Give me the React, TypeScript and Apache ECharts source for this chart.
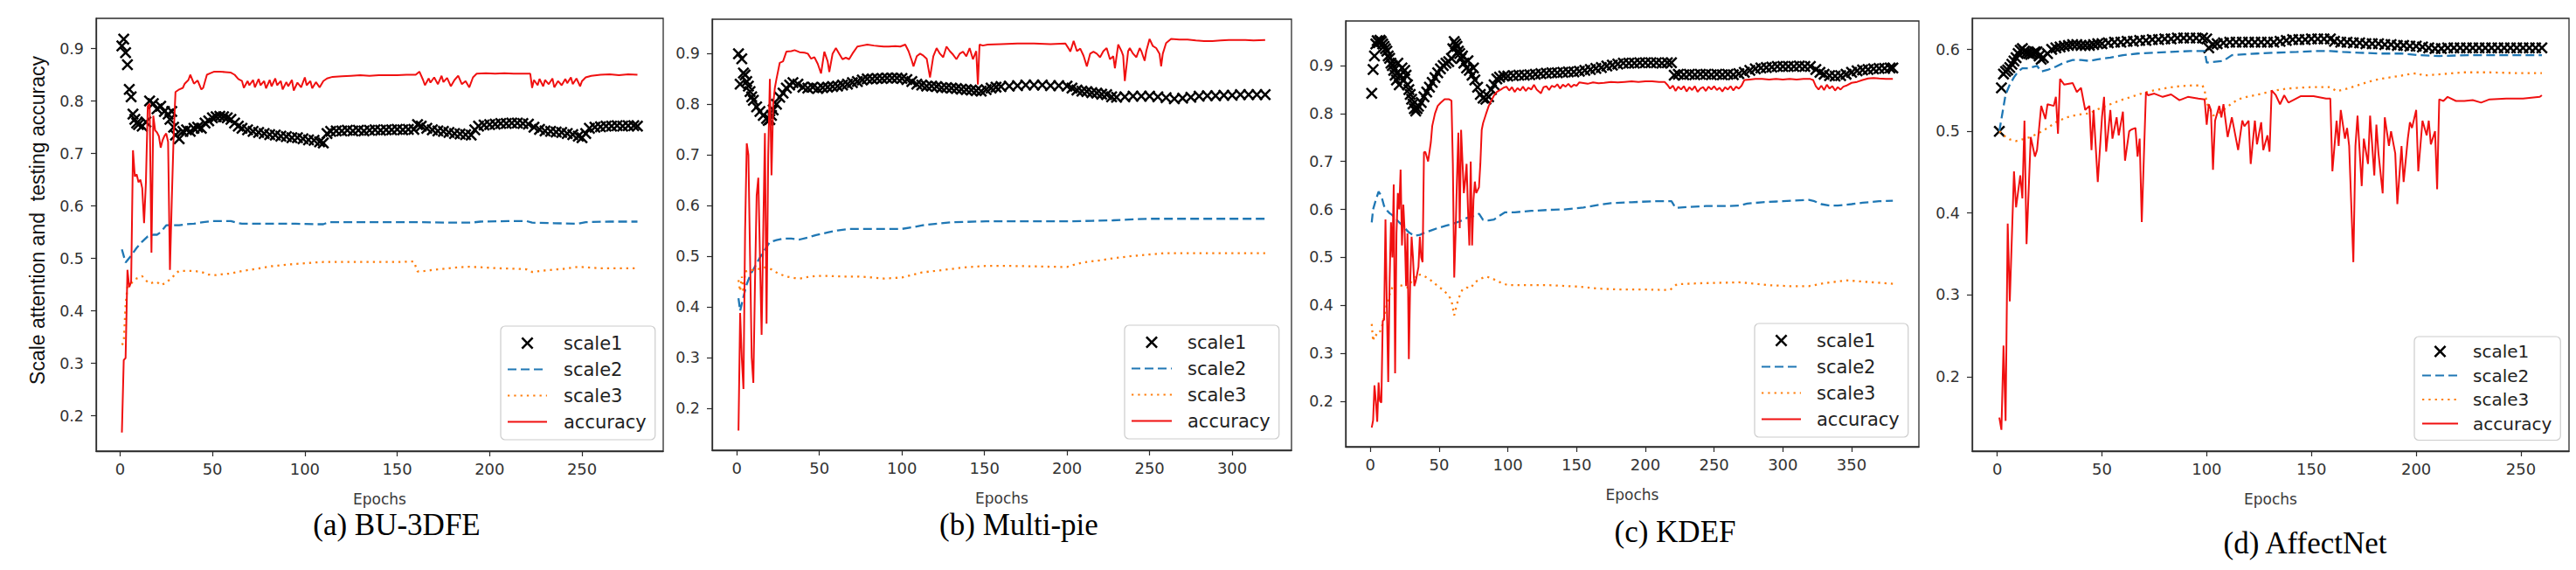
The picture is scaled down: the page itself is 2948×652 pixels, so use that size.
import React, { useEffect, useRef } from "react";
import * as echarts from "echarts";

type P = [number, number];

// ---------- (a) BU-3DFE ----------
const A_SCALE1: P[] = [[1,0.905],[2,0.918],[3,0.892],[4,0.869],[5,0.822],[6,0.808],[7,0.775],[8,0.765],[9,0.758],[10,0.755],[12,0.752],[14,0.76],[16,0.8],[18,0.795],[20,0.785],[22,0.79],[24,0.78],[26,0.775],[27,0.765],[28,0.78],[29,0.75],[30,0.735],[32,0.728],[34,0.742],[36,0.745],[38,0.742],[40,0.748],[42,0.75],[44,0.748],[46,0.758],[48,0.762],[50,0.768],[52,0.77],[54,0.771],[56,0.77],[58,0.768],[60,0.765],[62,0.758],[64,0.752],[66,0.748],[69,0.745],[72,0.742],[75,0.74],[78,0.738],[81,0.736],[84,0.735],[87,0.733],[90,0.732],[93,0.73],[96,0.73],[99,0.728],[102,0.726],[105,0.725],[108,0.722],[110,0.72],[112,0.738],[114,0.742],[117,0.743],[120,0.743],[123,0.744],[126,0.743],[129,0.744],[132,0.743],[135,0.744],[138,0.745],[141,0.744],[144,0.745],[147,0.745],[150,0.746],[153,0.745],[156,0.746],[159,0.746],[161,0.755],[163,0.752],[166,0.748],[169,0.745],[172,0.743],[175,0.742],[178,0.74],[181,0.738],[184,0.737],[187,0.736],[190,0.735],[192,0.745],[194,0.752],[197,0.754],[200,0.755],[203,0.756],[206,0.757],[209,0.757],[212,0.758],[215,0.758],[218,0.757],[221,0.756],[224,0.75],[227,0.746],[230,0.743],[233,0.742],[236,0.741],[239,0.74],[242,0.738],[245,0.736],[248,0.733],[250,0.73],[252,0.738],[254,0.748],[257,0.75],[260,0.751],[263,0.752],[266,0.752],[269,0.753],[272,0.752],[275,0.753],[278,0.753],[280,0.752]];
const A_SCALE2: P[] = [[1,0.517],[3,0.492],[6,0.505],[9,0.52],[12,0.532],[15,0.542],[18,0.545],[20,0.545],[22,0.55],[25,0.563],[28,0.563],[32,0.563],[36,0.565],[40,0.566],[45,0.569],[50,0.571],[55,0.571],[60,0.571],[63,0.568],[66,0.566],[75,0.566],[85,0.566],[95,0.566],[105,0.565],[110,0.565],[113,0.569],[120,0.569],[140,0.569],[160,0.569],[180,0.568],[190,0.568],[195,0.57],[210,0.571],[220,0.571],[223,0.568],[235,0.567],[248,0.566],[252,0.569],[265,0.57],[280,0.57]];
const A_SCALE3: P[] = [[1,0.335],[2,0.34],[3,0.412],[4,0.445],[6,0.452],[8,0.46],[10,0.463],[12,0.466],[14,0.458],[16,0.452],[18,0.454],[20,0.455],[22,0.449],[24,0.452],[26,0.457],[28,0.462],[30,0.471],[32,0.476],[36,0.476],[40,0.476],[44,0.474],[48,0.469],[52,0.468],[56,0.47],[60,0.471],[66,0.476],[74,0.48],[82,0.485],[90,0.488],[98,0.49],[105,0.492],[110,0.493],[120,0.493],[130,0.493],[140,0.493],[150,0.493],[159,0.494],[161,0.475],[165,0.476],[172,0.479],[180,0.482],[188,0.484],[195,0.483],[205,0.481],[215,0.48],[220,0.479],[223,0.474],[230,0.477],[240,0.48],[248,0.484],[252,0.483],[260,0.481],[270,0.481],[280,0.481]];
const A_ACC: P[] = [[1,0.168],[2,0.306],[3,0.31],[4,0.478],[5,0.445],[6,0.455],[7,0.706],[8,0.656],[9,0.66],[10,0.645],[11,0.65],[12,0.634],[13,0.567],[14,0.645],[15,0.79],[16,0.795],[17,0.511],[18,0.772],[19,0.744],[20,0.74],[21,0.733],[22,0.711],[23,0.725],[24,0.733],[25,0.738],[26,0.722],[27,0.478],[28,0.611],[29,0.733],[30,0.817],[32,0.822],[34,0.825],[35,0.833],[37,0.84],[38,0.85],[40,0.833],[42,0.839],[44,0.822],[45,0.825],[47,0.85],[49,0.853],[51,0.856],[54,0.856],[57,0.855],[60,0.854],[62,0.85],[64,0.842],[66,0.838],[67,0.825],[69,0.838],[70,0.83],[72,0.84],[73,0.826],[75,0.842],[76,0.83],[78,0.838],[79,0.824],[81,0.84],[82,0.828],[84,0.843],[85,0.83],[87,0.838],[88,0.822],[90,0.836],[91,0.828],[93,0.84],[94,0.82],[96,0.835],[98,0.826],[100,0.845],[101,0.83],[103,0.838],[104,0.824],[106,0.836],[108,0.826],[110,0.838],[112,0.843],[115,0.846],[120,0.847],[125,0.848],[130,0.849],[135,0.848],[140,0.849],[145,0.849],[150,0.849],[155,0.85],[160,0.85],[162,0.856],[164,0.84],[165,0.83],[167,0.843],[168,0.835],[170,0.845],[172,0.832],[174,0.848],[175,0.836],[177,0.844],[179,0.828],[181,0.84],[183,0.848],[185,0.832],[187,0.838],[189,0.826],[191,0.845],[193,0.852],[198,0.853],[203,0.852],[208,0.853],[213,0.852],[218,0.852],[222,0.852],[223,0.825],[224,0.84],[226,0.83],[227,0.842],[229,0.828],[230,0.84],[232,0.832],[234,0.843],[235,0.826],[237,0.838],[239,0.83],[241,0.842],[242,0.834],[244,0.845],[245,0.832],[247,0.843],[249,0.828],[250,0.838],[252,0.845],[255,0.848],[260,0.85],[265,0.851],[270,0.849],[275,0.851],[280,0.85]];

// ---------- (b) Multi-pie ----------
const B_SCALE1: P[] = [[1,0.9],[2,0.84],[3,0.89],[4,0.862],[5,0.858],[6,0.845],[7,0.836],[8,0.825],[9,0.815],[10,0.808],[12,0.795],[14,0.786],[16,0.778],[18,0.772],[19,0.768],[20,0.77],[21,0.778],[22,0.789],[24,0.8],[26,0.814],[28,0.822],[30,0.832],[32,0.838],[34,0.843],[37,0.84],[40,0.834],[43,0.832],[46,0.834],[49,0.831],[52,0.833],[55,0.834],[58,0.835],[61,0.836],[64,0.838],[67,0.84],[70,0.843],[73,0.845],[76,0.848],[79,0.85],[82,0.85],[85,0.851],[88,0.851],[91,0.852],[94,0.852],[97,0.852],[100,0.851],[103,0.849],[106,0.845],[109,0.84],[112,0.838],[115,0.836],[118,0.836],[121,0.835],[124,0.833],[127,0.833],[130,0.832],[133,0.831],[136,0.83],[139,0.829],[142,0.828],[145,0.827],[148,0.826],[151,0.829],[154,0.832],[157,0.834],[160,0.835],[165,0.836],[170,0.837],[175,0.838],[180,0.838],[185,0.838],[190,0.837],[195,0.837],[200,0.836],[203,0.832],[206,0.828],[209,0.826],[212,0.825],[215,0.823],[218,0.822],[221,0.82],[224,0.819],[227,0.815],[230,0.814],[235,0.815],[240,0.816],[245,0.816],[250,0.816],[255,0.815],[260,0.813],[265,0.811],[270,0.812],[275,0.814],[280,0.816],[285,0.817],[290,0.817],[295,0.818],[300,0.818],[305,0.819],[310,0.819],[315,0.819],[320,0.819]];
const B_SCALE2: P[] = [[1,0.417],[2,0.392],[4,0.42],[6,0.445],[8,0.462],[10,0.474],[12,0.486],[15,0.503],[18,0.518],[20,0.528],[24,0.532],[28,0.535],[33,0.535],[38,0.533],[43,0.537],[48,0.542],[55,0.547],[61,0.551],[68,0.554],[80,0.554],[90,0.554],[100,0.554],[106,0.557],[112,0.561],[120,0.564],[130,0.567],[140,0.568],[151,0.569],[170,0.569],[190,0.569],[202,0.569],[215,0.57],[228,0.571],[240,0.573],[249,0.574],[270,0.574],[290,0.574],[320,0.574]];
const B_SCALE3: P[] = [[1,0.453],[2,0.431],[3,0.46],[4,0.428],[5,0.47],[8,0.472],[12,0.474],[17,0.478],[21,0.474],[25,0.466],[30,0.46],[35,0.457],[38,0.456],[43,0.459],[48,0.461],[55,0.461],[65,0.46],[74,0.46],[82,0.458],[89,0.456],[95,0.457],[100,0.458],[106,0.463],[112,0.468],[120,0.471],[130,0.475],[138,0.478],[151,0.481],[165,0.481],[180,0.48],[195,0.479],[200,0.479],[205,0.484],[210,0.488],[220,0.492],[228,0.496],[238,0.5],[248,0.503],[259,0.506],[280,0.506],[300,0.506],[320,0.506]];
const B_ACC: P[] = [[1,0.156],[2,0.388],[3,0.3],[4,0.238],[5,0.55],[6,0.723],[7,0.7],[8,0.5],[9,0.3],[10,0.25],[11,0.45],[12,0.62],[13,0.655],[14,0.5],[15,0.345],[16,0.55],[17,0.743],[18,0.367],[19,0.7],[20,0.85],[21,0.66],[22,0.8],[23,0.832],[24,0.85],[26,0.882],[28,0.885],[30,0.904],[33,0.905],[35,0.907],[38,0.903],[41,0.902],[43,0.9],[45,0.89],[47,0.893],[49,0.88],[51,0.861],[53,0.904],[55,0.885],[56,0.864],[58,0.9],[60,0.911],[62,0.9],[64,0.889],[66,0.892],[68,0.889],[70,0.9],[73,0.914],[76,0.916],[79,0.918],[83,0.916],[86,0.915],[89,0.914],[92,0.914],[96,0.915],[99,0.914],[102,0.918],[104,0.905],[106,0.886],[107,0.875],[109,0.895],[111,0.9],[113,0.896],[115,0.89],[117,0.853],[119,0.895],[121,0.911],[123,0.9],[125,0.893],[127,0.914],[129,0.905],[131,0.898],[133,0.889],[135,0.9],[137,0.904],[139,0.895],[141,0.911],[143,0.889],[145,0.905],[146,0.839],[147,0.918],[149,0.916],[152,0.918],[160,0.919],[170,0.92],[180,0.92],[190,0.919],[199,0.92],[201,0.91],[202,0.904],[204,0.925],[206,0.905],[208,0.91],[210,0.896],[212,0.875],[214,0.9],[216,0.904],[218,0.9],[220,0.893],[222,0.905],[224,0.911],[226,0.889],[228,0.895],[229,0.871],[231,0.918],[233,0.905],[234,0.896],[235,0.846],[237,0.905],[238,0.911],[240,0.9],[242,0.893],[244,0.911],[245,0.905],[247,0.886],[248,0.905],[250,0.929],[252,0.915],[254,0.911],[256,0.9],[257,0.875],[258,0.9],[260,0.921],[263,0.929],[268,0.928],[273,0.928],[278,0.926],[283,0.925],[288,0.925],[293,0.926],[298,0.927],[303,0.927],[308,0.927],[313,0.926],[320,0.927]];

// ---------- (c) KDEF ----------
const C_SCALE1: P[] = [[1,0.842],[2,0.892],[3,0.92],[4,0.945],[5,0.952],[6,0.948],[7,0.953],[8,0.95],[9,0.945],[10,0.94],[11,0.935],[12,0.93],[13,0.92],[14,0.915],[15,0.905],[16,0.9],[17,0.89],[18,0.88],[19,0.87],[20,0.905],[21,0.86],[22,0.88],[23,0.895],[24,0.87],[25,0.89],[26,0.88],[27,0.86],[28,0.85],[29,0.84],[30,0.83],[31,0.82],[32,0.81],[33,0.805],[34,0.81],[35,0.815],[37,0.823],[39,0.835],[41,0.845],[43,0.855],[45,0.865],[47,0.875],[49,0.885],[51,0.893],[53,0.9],[55,0.905],[57,0.908],[59,0.915],[60,0.935],[61,0.95],[62,0.945],[63,0.94],[64,0.93],[65,0.925],[66,0.915],[67,0.92],[68,0.905],[70,0.895],[71,0.91],[72,0.89],[74,0.88],[75,0.895],[76,0.87],[78,0.855],[80,0.84],[82,0.832],[84,0.83],[86,0.835],[88,0.85],[90,0.86],[92,0.872],[94,0.876],[97,0.878],[100,0.878],[104,0.879],[108,0.88],[112,0.88],[116,0.881],[120,0.882],[124,0.883],[128,0.884],[132,0.885],[136,0.885],[140,0.886],[144,0.887],[148,0.887],[152,0.888],[156,0.89],[160,0.892],[164,0.894],[168,0.896],[172,0.899],[176,0.901],[180,0.903],[184,0.905],[188,0.905],[192,0.905],[196,0.906],[200,0.906],[204,0.906],[208,0.906],[212,0.905],[216,0.906],[219,0.906],[221,0.88],[224,0.882],[228,0.881],[232,0.882],[236,0.881],[240,0.882],[244,0.882],[248,0.881],[252,0.882],[256,0.881],[260,0.882],[264,0.881],[268,0.883],[272,0.886],[276,0.89],[280,0.893],[284,0.895],[288,0.896],[292,0.897],[296,0.898],[300,0.898],[304,0.898],[308,0.898],[312,0.899],[316,0.898],[320,0.898],[324,0.892],[327,0.886],[330,0.882],[334,0.879],[338,0.878],[342,0.879],[346,0.882],[350,0.886],[354,0.889],[358,0.891],[362,0.892],[366,0.893],[370,0.894],[374,0.894],[378,0.895],[380,0.895]];
const C_SCALE2: P[] = [[1,0.573],[2,0.6],[4,0.62],[6,0.637],[8,0.628],[10,0.607],[12,0.598],[14,0.592],[16,0.588],[20,0.576],[24,0.564],[28,0.552],[32,0.545],[36,0.547],[40,0.552],[45,0.557],[50,0.562],[55,0.566],[60,0.57],[65,0.575],[70,0.582],[75,0.586],[79,0.591],[82,0.578],[86,0.577],[90,0.579],[94,0.587],[98,0.594],[105,0.594],[117,0.597],[130,0.599],[141,0.6],[155,0.604],[165,0.609],[175,0.613],[190,0.615],[205,0.617],[219,0.617],[222,0.603],[230,0.605],[244,0.607],[260,0.607],[268,0.608],[274,0.612],[285,0.615],[300,0.617],[319,0.62],[323,0.617],[328,0.611],[334,0.608],[340,0.608],[350,0.611],[358,0.614],[370,0.617],[380,0.618]];
const C_SCALE3: P[] = [[1,0.361],[2,0.325],[3,0.34],[5,0.337],[7,0.345],[9,0.361],[11,0.39],[13,0.415],[15,0.43],[17,0.445],[20,0.443],[24,0.44],[27,0.437],[30,0.45],[33,0.463],[37,0.464],[41,0.458],[45,0.45],[49,0.44],[53,0.432],[57,0.42],[59,0.41],[61,0.379],[63,0.403],[65,0.42],[67,0.433],[70,0.437],[73,0.436],[76,0.448],[80,0.455],[84,0.46],[88,0.457],[92,0.451],[96,0.446],[100,0.442],[115,0.442],[130,0.442],[151,0.439],[165,0.435],[180,0.433],[200,0.433],[214,0.432],[218,0.432],[223,0.444],[240,0.446],[255,0.447],[268,0.448],[280,0.445],[289,0.442],[305,0.44],[319,0.44],[330,0.446],[346,0.452],[360,0.449],[380,0.445]];
const C_ACC: P[] = [[1,0.145],[2,0.16],[3,0.233],[4,0.2],[5,0.157],[6,0.239],[7,0.2],[8,0.197],[9,0.367],[10,0.37],[11,0.579],[12,0.4],[13,0.24],[14,0.45],[15,0.573],[16,0.5],[17,0.652],[18,0.258],[19,0.55],[20,0.634],[21,0.6],[22,0.683],[23,0.525],[24,0.61],[25,0.55],[26,0.44],[27,0.55],[28,0.288],[29,0.45],[30,0.543],[31,0.5],[32,0.44],[33,0.45],[34,0.465],[35,0.48],[36,0.543],[37,0.5],[38,0.49],[39,0.719],[40,0.72],[42,0.7],[44,0.74],[45,0.774],[47,0.8],[49,0.816],[51,0.822],[54,0.83],[57,0.83],[59,0.827],[60,0.695],[61,0.458],[62,0.55],[63,0.664],[64,0.76],[65,0.561],[66,0.766],[67,0.7],[68,0.634],[69,0.66],[70,0.695],[71,0.6],[72,0.525],[73,0.7],[74,0.525],[75,0.62],[76,0.658],[77,0.634],[78,0.64],[79,0.646],[80,0.695],[81,0.766],[82,0.78],[84,0.798],[86,0.815],[88,0.827],[90,0.838],[92,0.845],[95,0.85],[97,0.854],[99,0.856],[101,0.848],[103,0.855],[105,0.845],[107,0.853],[109,0.848],[111,0.856],[113,0.847],[115,0.854],[117,0.85],[119,0.86],[121,0.85],[123,0.845],[124,0.842],[126,0.855],[128,0.857],[130,0.849],[132,0.858],[134,0.855],[136,0.861],[138,0.852],[140,0.86],[142,0.856],[144,0.862],[146,0.855],[148,0.86],[150,0.858],[152,0.865],[154,0.864],[158,0.862],[162,0.865],[166,0.863],[170,0.864],[175,0.866],[180,0.865],[185,0.866],[190,0.867],[195,0.866],[200,0.867],[205,0.867],[210,0.866],[214,0.866],[216,0.86],[218,0.852],[220,0.858],[222,0.847],[224,0.856],[226,0.85],[228,0.857],[230,0.846],[232,0.855],[234,0.849],[236,0.857],[238,0.845],[240,0.852],[242,0.855],[244,0.847],[246,0.856],[248,0.85],[250,0.857],[252,0.849],[254,0.854],[256,0.846],[258,0.855],[260,0.85],[262,0.857],[264,0.848],[266,0.856],[268,0.852],[270,0.858],[272,0.87],[276,0.871],[280,0.872],[285,0.872],[290,0.871],[295,0.872],[300,0.871],[305,0.872],[310,0.871],[315,0.872],[320,0.872],[322,0.87],[324,0.857],[326,0.85],[328,0.858],[330,0.849],[332,0.86],[334,0.852],[336,0.857],[338,0.848],[340,0.855],[342,0.85],[344,0.856],[346,0.858],[350,0.864],[354,0.866],[358,0.87],[362,0.873],[366,0.874],[370,0.873],[375,0.872],[380,0.872]];

// ---------- (d) AffectNet ----------
const D_SCALE1: P[] = [[1,0.5],[2,0.553],[3,0.57],[4,0.573],[5,0.575],[6,0.578],[7,0.582],[8,0.586],[9,0.59],[10,0.595],[11,0.599],[12,0.601],[13,0.598],[14,0.596],[15,0.595],[16,0.594],[17,0.595],[18,0.597],[19,0.597],[20,0.592],[21,0.588],[22,0.59],[24,0.595],[26,0.6],[28,0.602],[30,0.603],[32,0.604],[34,0.605],[36,0.606],[38,0.606],[40,0.605],[42,0.605],[44,0.605],[46,0.606],[48,0.607],[50,0.607],[53,0.608],[56,0.609],[59,0.609],[62,0.61],[65,0.61],[68,0.611],[71,0.611],[74,0.612],[77,0.612],[80,0.613],[83,0.613],[86,0.614],[89,0.614],[92,0.614],[95,0.614],[98,0.614],[100,0.613],[101,0.602],[103,0.606],[105,0.607],[108,0.608],[111,0.609],[114,0.609],[117,0.609],[120,0.609],[123,0.609],[126,0.609],[129,0.609],[132,0.609],[135,0.61],[138,0.611],[141,0.612],[144,0.612],[147,0.612],[150,0.613],[153,0.613],[156,0.613],[159,0.613],[161,0.61],[164,0.609],[167,0.609],[170,0.608],[173,0.608],[176,0.607],[179,0.607],[182,0.607],[185,0.606],[188,0.606],[191,0.605],[194,0.605],[197,0.604],[200,0.604],[203,0.603],[206,0.602],[209,0.601],[212,0.601],[215,0.602],[218,0.602],[221,0.602],[224,0.602],[227,0.602],[230,0.602],[233,0.602],[236,0.602],[239,0.602],[242,0.602],[245,0.602],[248,0.602],[251,0.602],[254,0.602],[257,0.602],[260,0.602]];
const D_SCALE2: P[] = [[1,0.5],[2,0.515],[3,0.53],[4,0.545],[6,0.557],[8,0.566],[10,0.573],[12,0.577],[15,0.577],[19,0.58],[21,0.573],[24,0.575],[28,0.579],[32,0.584],[36,0.587],[40,0.587],[44,0.586],[48,0.588],[54,0.59],[60,0.593],[67,0.595],[75,0.596],[83,0.597],[92,0.598],[99,0.598],[100,0.584],[104,0.585],[108,0.586],[112,0.593],[118,0.594],[124,0.595],[133,0.596],[143,0.597],[152,0.598],[159,0.598],[165,0.597],[173,0.596],[183,0.595],[193,0.595],[201,0.593],[211,0.592],[225,0.593],[240,0.593],[260,0.593]];
const D_SCALE3: P[] = [[1,0.5],[3,0.495],[6,0.49],[9,0.488],[12,0.49],[16,0.493],[20,0.498],[24,0.504],[28,0.511],[33,0.517],[38,0.52],[44,0.522],[49,0.528],[54,0.533],[59,0.538],[64,0.542],[70,0.547],[75,0.55],[81,0.553],[87,0.555],[93,0.556],[98,0.556],[99,0.55],[100,0.535],[103,0.519],[106,0.523],[109,0.528],[112,0.534],[115,0.539],[119,0.542],[123,0.544],[128,0.547],[133,0.55],[138,0.552],[143,0.553],[150,0.554],[159,0.554],[162,0.549],[167,0.552],[173,0.557],[178,0.561],[183,0.564],[188,0.566],[193,0.568],[197,0.57],[201,0.571],[203,0.568],[208,0.569],[213,0.57],[223,0.572],[235,0.572],[248,0.571],[260,0.571]];
const D_ACC: P[] = [[1,0.15],[2,0.135],[3,0.238],[4,0.146],[5,0.387],[6,0.292],[8,0.451],[9,0.407],[11,0.446],[12,0.418],[13,0.513],[14,0.362],[16,0.493],[18,0.469],[19,0.477],[21,0.531],[23,0.515],[24,0.533],[27,0.531],[28,0.542],[29,0.497],[30,0.564],[32,0.557],[36,0.559],[38,0.548],[40,0.553],[42,0.526],[44,0.531],[45,0.477],[46,0.526],[48,0.438],[50,0.517],[51,0.542],[52,0.475],[54,0.526],[55,0.491],[57,0.517],[58,0.495],[60,0.524],[61,0.464],[63,0.5],[64,0.502],[66,0.504],[67,0.469],[68,0.491],[69,0.389],[71,0.548],[72,0.544],[75,0.546],[79,0.542],[83,0.545],[87,0.538],[91,0.542],[96,0.54],[99,0.539],[100,0.508],[101,0.533],[102,0.526],[103,0.453],[104,0.513],[106,0.531],[107,0.517],[108,0.533],[110,0.493],[112,0.517],[113,0.504],[115,0.477],[117,0.513],[118,0.506],[120,0.513],[121,0.46],[123,0.513],[124,0.484],[126,0.511],[127,0.477],[129,0.495],[130,0.475],[131,0.55],[133,0.544],[135,0.533],[137,0.544],[139,0.535],[142,0.539],[145,0.543],[151,0.543],[157,0.54],[159,0.54],[160,0.451],[162,0.513],[163,0.482],[164,0.526],[166,0.491],[167,0.504],[168,0.482],[170,0.34],[171,0.482],[172,0.519],[174,0.433],[175,0.491],[177,0.46],[178,0.519],[180,0.446],[181,0.508],[182,0.473],[184,0.424],[185,0.517],[187,0.482],[188,0.5],[190,0.473],[191,0.411],[193,0.482],[194,0.438],[196,0.491],[197,0.511],[198,0.504],[200,0.526],[201,0.451],[203,0.513],[205,0.495],[206,0.513],[207,0.484],[209,0.5],[210,0.429],[211,0.539],[213,0.537],[215,0.542],[219,0.537],[223,0.537],[227,0.538],[231,0.535],[235,0.539],[243,0.54],[251,0.54],[259,0.542],[260,0.544]];

// ---------- ticks, names ----------
const X_TICKS_A = [0, 50, 100, 150, 200, 250];
const X_TICKS_B = [0, 50, 100, 150, 200, 250, 300];
const X_TICKS_C = [0, 50, 100, 150, 200, 250, 300, 350];
const X_TICKS_D = [0, 50, 100, 150, 200, 250];
const Y_TICKS_ABC = [0.2, 0.3, 0.4, 0.5, 0.6, 0.7, 0.8, 0.9];
const Y_TICKS_D = [0.2, 0.3, 0.4, 0.5, 0.6];
const SERIES_NAMES = ["scale1", "scale2", "scale3", "accuracy"];
const CAPTIONS = ["(a) BU-3DFE", "(b) Multi-pie", "(c) KDEF", "(d) AffectNet"];
const X_NAME = "Epochs";
const Y_NAME = "Scale attention and \u00a0testing accuracy";

const PANELS = [
  { s1: A_SCALE1, s2: A_SCALE2, s3: A_SCALE3, acc: A_ACC, xTicks: X_TICKS_A, yTicks: Y_TICKS_ABC, xMin: -12.95, xMax: 293.95, yMin: 0.1325, yMax: 0.9575 },
  { s1: B_SCALE1, s2: B_SCALE2, s3: B_SCALE3, acc: B_ACC, xTicks: X_TICKS_B, yTicks: Y_TICKS_ABC, xMin: -14.95, xMax: 335.95, yMin: 0.117, yMax: 0.968 },
  { s1: C_SCALE1, s2: C_SCALE2, s3: C_SCALE3, acc: C_ACC, xTicks: X_TICKS_C, yTicks: Y_TICKS_ABC, xMin: -17.95, xMax: 398.95, yMin: 0.105, yMax: 0.993 },
  { s1: D_SCALE1, s2: D_SCALE2, s3: D_SCALE3, acc: D_ACC, xTicks: X_TICKS_D, yTicks: Y_TICKS_D, xMin: -11.95, xMax: 272.95, yMin: 0.109, yMax: 0.638 },
];

// layout (pixels)
const LAYOUT = [
  { grid: { left: 110, top: 21, width: 649, height: 495 }, leg: { left: 573, top: 373, w: 45, gap: 9, textPad: 14, font: 21, pad: [9, 10, 10, 7] }, cap: { x: 454, y: 600 } },
  { grid: { left: 815, top: 22, width: 663, height: 493 }, leg: { left: 1287, top: 372, w: 46, gap: 9, textPad: 13, font: 21, pad: [9, 10, 10, 7] }, cap: { x: 1166, y: 600 } },
  { grid: { left: 1540, top: 24, width: 656, height: 487 }, leg: { left: 2008, top: 370, w: 45, gap: 9, textPad: 13, font: 21, pad: [9, 10, 10, 7] }, cap: { x: 1917, y: 608 } },
  { grid: { left: 2257, top: 21, width: 683, height: 495 }, leg: { left: 2763, top: 385, w: 41, gap: 7.5, textPad: 12, font: 20, pad: [7, 10, 9, 8] }, cap: { x: 2638, y: 621 } },
];

const X_MARK = "path://M0,1.3L1.3,0L5,3.7L8.7,0L10,1.3L6.3,5L10,8.7L8.7,10L5,6.3L1.3,10L0,8.7L3.7,5Z";
const AXIS_COLOR = "#2b2b2b";
const TICK_FONT = "DejaVu Sans";
const HIDDEN_SYMBOL = { color: "transparent", borderColor: "transparent", borderWidth: 0, opacity: 0 };

function buildOption() {
  const grid = LAYOUT.map((l) => ({ ...l.grid, show: true, borderColor: AXIS_COLOR, borderWidth: 1.3, backgroundColor: "transparent" }));
  const xAxis = PANELS.map((p, i) => ({
    type: "value", gridIndex: i, min: p.xMin, max: p.xMax,
    name: X_NAME, nameLocation: "middle", nameGap: 46,
    nameTextStyle: { fontFamily: TICK_FONT, fontSize: 17, color: "#3a3a3a" },
    axisLine: { show: true, onZero: false, lineStyle: { color: AXIS_COLOR, width: 1.3 } },
    splitLine: { show: false },
    axisTick: { show: true, inside: false, length: 6, customValues: p.xTicks, lineStyle: { color: AXIS_COLOR, width: 1.2 } },
    axisLabel: { customValues: p.xTicks, fontFamily: TICK_FONT, fontSize: 18, color: "#333", margin: 11, formatter: (v: number) => String(Math.round(v)) },
  }));
  const yAxis = PANELS.map((p, i) => ({
    type: "value", gridIndex: i, min: p.yMin, max: p.yMax,
    axisLine: { show: true, onZero: false, lineStyle: { color: AXIS_COLOR, width: 1.3 } },
    splitLine: { show: false },
    axisTick: { show: true, inside: false, length: 6, customValues: p.yTicks, lineStyle: { color: AXIS_COLOR, width: 1.2 } },
    axisLabel: { customValues: p.yTicks, fontFamily: TICK_FONT, fontSize: 17.5, color: "#333", margin: 14, formatter: (v: number) => v.toFixed(1) },
  }));
  const series: any[] = [];
  PANELS.forEach((p, i) => {
    series.push({
      type: "scatter", name: SERIES_NAMES[0], xAxisIndex: i, yAxisIndex: i, data: p.s1,
      symbol: X_MARK, symbolSize: 13.5, symbolKeepAspect: true, itemStyle: { color: "#000", opacity: 1 }, z: 2,
    });
    series.push({
      type: "line", name: SERIES_NAMES[1], xAxisIndex: i, yAxisIndex: i, data: p.s2, symbol: "none", showSymbol: false,
      lineStyle: { color: "#1f77b4", width: 2.3, type: [10, 5] }, itemStyle: { color: "#1f77b4" }, z: 3,
    });
    series.push({
      type: "line", name: SERIES_NAMES[2], xAxisIndex: i, yAxisIndex: i, data: p.s3, symbol: "none", showSymbol: false,
      lineStyle: { color: "#ff7f0e", width: 2.3, type: [2.3, 5] }, itemStyle: { color: "#ff7f0e" }, z: 4,
    });
    series.push({
      type: "line", name: SERIES_NAMES[3], xAxisIndex: i, yAxisIndex: i, data: p.acc, symbol: "none", showSymbol: false,
      lineStyle: { color: "#f01010", width: 2 }, itemStyle: { color: "#f01010" }, z: 5,
    });
  });
  const legend = LAYOUT.map((l) => ({
    data: [
      { name: SERIES_NAMES[0] },
      { name: SERIES_NAMES[1], itemStyle: HIDDEN_SYMBOL },
      { name: SERIES_NAMES[2], itemStyle: HIDDEN_SYMBOL },
      { name: SERIES_NAMES[3], itemStyle: HIDDEN_SYMBOL },
    ],
    orient: "vertical", left: l.leg.left, top: l.leg.top,
    itemWidth: l.leg.w, itemHeight: 14, itemGap: l.leg.gap,
    padding: l.leg.pad, borderColor: "#cccccc", borderWidth: 1.2, borderRadius: 5,
    backgroundColor: "rgba(255,255,255,0.85)", selectedMode: false,
    textStyle: { fontFamily: TICK_FONT, fontSize: l.leg.font, color: "#222", padding: [0, 0, 0, l.leg.textPad] },
  }));
  const graphic: any[] = [
    {
      type: "text", x: 43, y: 252, rotation: Math.PI / 2,
      style: { text: Y_NAME, font: '23px "Liberation Sans"', fill: "#111", align: "center", verticalAlign: "middle" },
    },
    ...LAYOUT.map((l, i) => ({
      type: "text", x: l.cap.x, y: l.cap.y,
      style: { text: CAPTIONS[i], font: '35px "Liberation Serif"', fill: "#000", align: "center", verticalAlign: "middle" },
    })),
  ];
  return { animation: false, backgroundColor: "#fff", grid, xAxis, yAxis, series, legend, graphic };
}

export default function App() {
  const ref = useRef<HTMLDivElement>(null);
  useEffect(() => {
    document.body.style.margin = "0";
    const chart = echarts.init(ref.current!, undefined, { renderer: "svg", width: 2948, height: 652 });
    chart.setOption(buildOption() as any);
    return () => chart.dispose();
  }, []);
  return <div ref={ref} style={{ position: "absolute", left: 0, top: 0, width: 2948, height: 652, background: "#fff" }} />;
}
